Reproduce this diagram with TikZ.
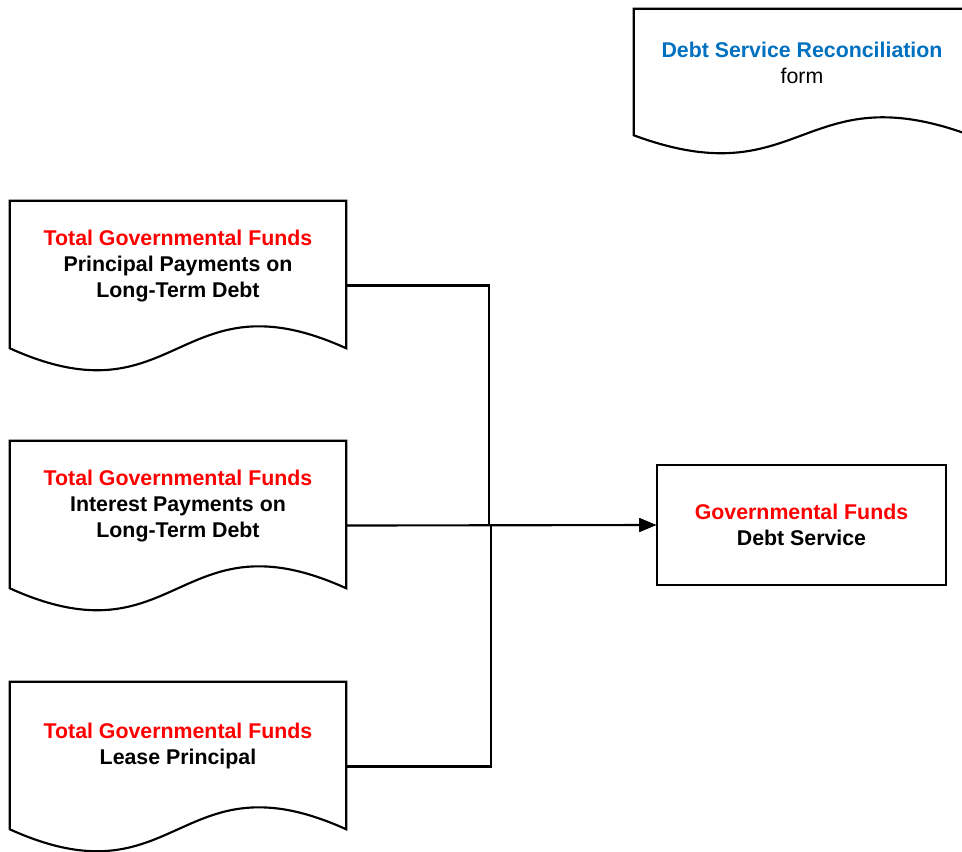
\documentclass[tikz,border=0pt]{standalone}
\usepackage{fontspec}
\setmainfont{Liberation Sans}
\usetikzlibrary{calc,arrows.meta}
\definecolor{tred}{RGB}{255,0,0}
\definecolor{tblue}{RGB}{0,112,192}
\begin{document}
\begin{tikzpicture}[x=0.75pt,y=0.75pt,
  outline/.style={line width=1.6pt, draw=black},
  docbox/.style={draw=none, minimum width=252pt, inner sep=0pt},
  txt/.style={align=center, inner sep=0pt, font=\fontsize{16}{19.5}\selectfont\bfseries},
  conn/.style={line width=1.6pt, -{Triangle[length=12.5pt,width=10pt]}}
]
\useasboundingbox (0,0) rectangle (962,-851);
\clip (0,0) rectangle (962,-851);

% document shapes (bounding boxes incl. wave)
\node[docbox, minimum height=126.75pt] (d1) at (178,-285.5) {};
\node[docbox, minimum height=126.75pt] (d2) at (178,-525.5) {};
\node[docbox, minimum height=126.75pt] (d3) at (178,-766.5) {};
\node[docbox, minimum height=108pt] (d0) at (802,-81) {};

\foreach \n/\a in {d1/22,d2/22,d3/22,d0/18}{
  \draw[outline] ($(\n.south west)+(0,\a)$) -- (\n.north west) -- (\n.north east)
    -- ($(\n.south east)+(0,\a)$)
    .. controls ($(\n.south)+(0,{\a+3.46*\a})$) and ($(\n.south)+(0,{\a-3.46*\a})$) ..
    ($(\n.south west)+(0,\a)$) -- cycle;
}

% texts of documents
\node[txt] (t0) at ($(d0.center)+(0,18.5)$) {\textcolor{tblue}{Debt Service Reconciliation}\\\mdseries form};
\node[txt] (t1) at ($(d1.center)+(0,19.5)$) {\textcolor{tred}{Total Governmental Funds}\\Principal Payments on\\Long-Term Debt};
\node[txt] (t2) at ($(d2.center)+(0,19.5)$) {\textcolor{tred}{Total Governmental Funds}\\Interest Payments on\\Long-Term Debt};
\node[txt] (t3) at ($(d3.center)+(0,20.5)$) {\textcolor{tred}{Total Governmental Funds}\\Lease Principal};

% target box
\node[txt, outline, minimum width=216.75pt, minimum height=90pt] (box) at (801.5,-525)
  {\textcolor{tred}{Governmental Funds}\\Debt Service};

% connectors
\coordinate (j1) at (489,-525);
\coordinate (j3) at (491,-525);
\draw[conn] (d1.east) -| (j1) -- (box.west);
\draw[conn] (d2.east) -- (box.west);
\draw[conn] (d3.east) -| (j3) -- (box.west);
\end{tikzpicture}
\end{document}
